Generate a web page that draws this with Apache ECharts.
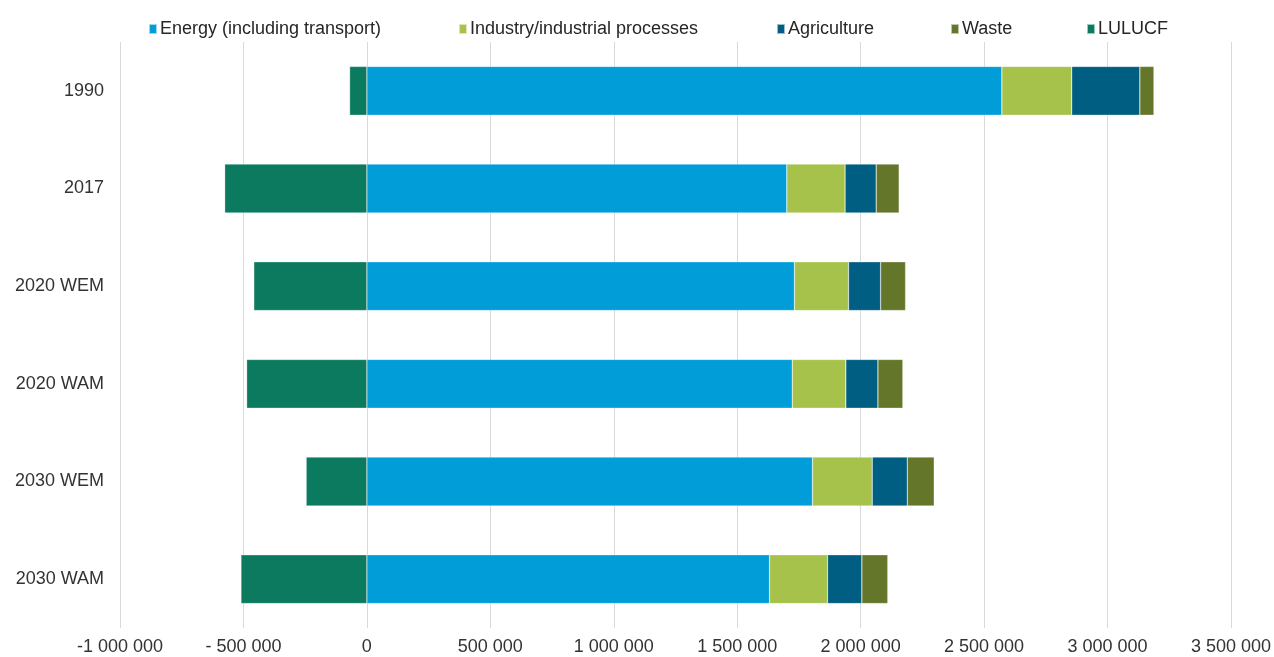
<!DOCTYPE html>
<html>
<head>
<meta charset="utf-8">
<script src="https://cdn.jsdelivr.net/npm/echarts@6/dist/echarts.min.js"></script>
<style>
html,body{margin:0;padding:0;background:#fff;}
#chart{width:1274px;height:657px;}
</style>
</head>
<body>
<div id="chart"></div>
<script>
const categories = ['1990', '2017', '2020 WEM', '2020 WAM', '2030 WEM', '2030 WAM'];
const energy = [2572000, 1701000, 1732000, 1723000, 1805000, 1631000];
const industry = [283000, 236000, 219000, 217000, 242000, 235000];
const agriculture = [276000, 126000, 130000, 130000, 142000, 139000];
const waste = [57000, 93000, 101000, 101000, 109000, 105000];
const lulucf = [-70000, -576000, -458000, -487000, -246000, -510000];
const tickLabels = ['-1 000 000', '- 500 000', '0', '500 000', '1 000 000', '1 500 000', '2 000 000', '2 500 000', '3 000 000', '3 500 000'];
const seriesNames = ['Energy (including transport)', 'Industry/industrial processes', 'Agriculture', 'Waste', 'LULUCF'];
const seriesData = [energy, industry, agriculture, waste, lulucf];
const colors = ['#019dd8', '#a6c24a', '#005e82', '#647629', '#0c7a5e'];
const legendLeft = [143, 453, 771, 945, 1081];

const chart = echarts.init(document.getElementById('chart'));
const xMin = -1000000, xStep = 500000;

const option = {
  animation: false,
  color: colors,
  textStyle: { fontFamily: 'Liberation Sans, Arial, sans-serif' },
  legend: seriesNames.map((n, i) => ({
    data: [n],
    left: legendLeft[i],
    top: 15,
    itemWidth: 8,
    itemHeight: 10,
    itemGap: 0,
    icon: 'rect',
    textStyle: { fontSize: 18, color: '#262626', padding: [0, 0, 0, -2] },
    selectedMode: false
  })),
  grid: { left: 120, right: 42, top: 42, bottom: 29, containLabel: false },
  xAxis: {
    type: 'value',
    min: xMin,
    max: 3500000,
    interval: xStep,
    axisLine: { show: false },
    axisTick: { show: false },
    splitLine: { show: true, lineStyle: { color: '#d9d9d9', width: 1 } },
    axisLabel: {
      fontSize: 18,
      color: '#333333',
      margin: 10,
      formatter: function (v) {
        const idx = Math.round((v - xMin) / xStep);
        return tickLabels[idx] !== undefined ? tickLabels[idx] : '';
      }
    }
  },
  yAxis: {
    type: 'category',
    data: categories,
    inverse: true,
    axisLine: { show: false },
    axisTick: { show: false },
    splitLine: { show: false },
    axisLabel: { fontSize: 18, color: '#333333', margin: 16 }
  },
  series: seriesNames.map((n, i) => ({
    name: n,
    type: 'bar',
    stack: 'total',
    barWidth: '50%',
    data: seriesData[i],
    itemStyle: { color: colors[i], borderColor: 'rgba(255,255,255,0.6)', borderWidth: 0.5 }
  }))
};
chart.setOption(option);
</script>
</body>
</html>
